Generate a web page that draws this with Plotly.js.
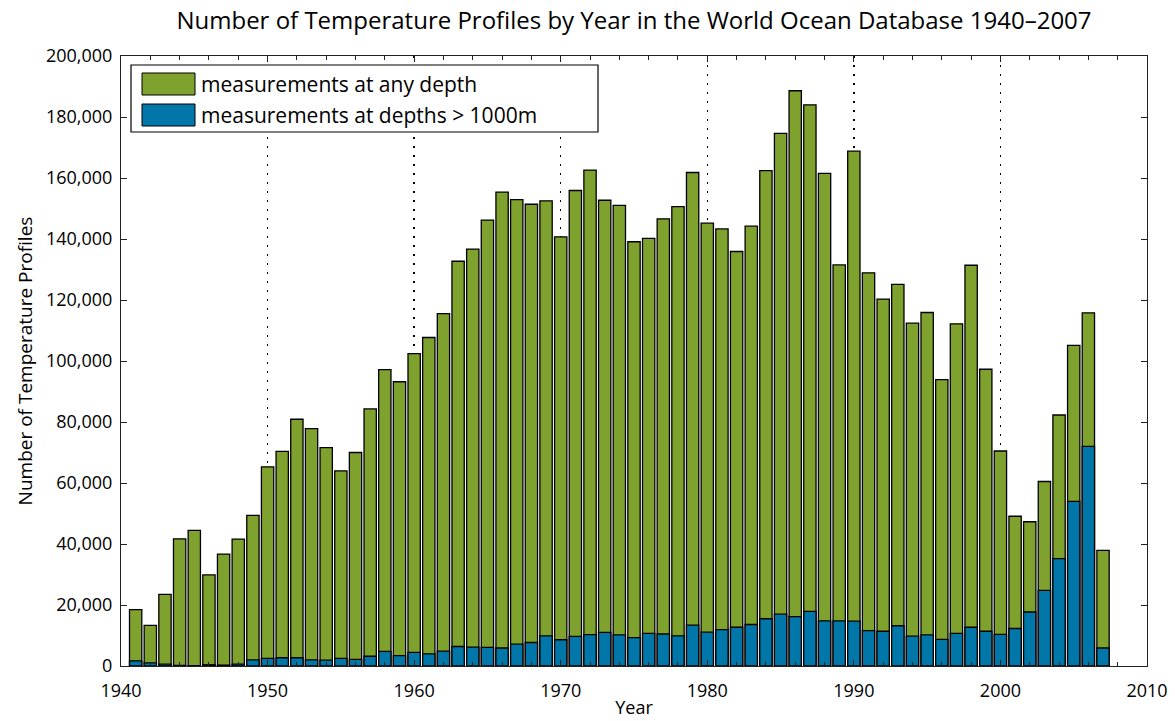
<!DOCTYPE html>
<html>
<head>
<meta charset="utf-8">
<script src="https://cdn.plot.ly/plotly-3.0.1.min.js"></script>
<style>html,body{margin:0;padding:0;background:#fff;}#chart{width:1175px;height:721px;}</style>
</head>
<body>
<div id="chart"></div>
<script>
const years = [1941,1942,1943,1944,1945,1946,1947,1948,1949,1950,1951,1952,1953,1954,1955,1956,1957,1958,1959,1960,
1961,1962,1963,1964,1965,1966,1967,1968,1969,1970,1971,1972,1973,1974,1975,1976,1977,1978,1979,1980,
1981,1982,1983,1984,1985,1986,1987,1988,1989,1990,1991,1992,1993,1994,1995,1996,1997,1998,1999,2000,
2001,2002,2003,2004,2005,2006,2007];
const anyDepth = [18500,13300,23500,41700,44500,29900,36700,41600,49400,65300,70400,80900,77800,71600,64000,70000,84300,97200,93200,102400,
107700,115500,132700,136700,146200,155400,152900,151400,152500,140700,155900,162600,152700,151000,139100,140200,146600,150600,161800,145200,
143300,135900,144200,162400,174600,188600,184000,161500,131500,168800,128900,120300,125100,112400,115900,93900,112200,131400,97300,70500,
49100,47300,60500,82300,105100,115800,37900];
const deep = [1700,1000,600,200,100,400,300,600,2000,2500,2700,2700,2000,1900,2500,2200,3200,4800,3400,4500,
4000,4900,6400,6200,6100,5900,7200,7700,9900,8600,9700,10300,11000,10200,9300,10700,10500,9900,13400,11100,
11900,12700,13600,15500,17000,16200,17900,14800,14800,14700,11600,11400,13200,9800,10200,8700,10700,12700,11400,10400,
12300,17700,24800,35200,54000,72000,5900];
const seriesNames = ["measurements at any depth","measurements at depths > 1000m"];
const seriesColors = ["#7fa12d","#0077a8"];
const xTicks = [1940,1950,1960,1970,1980,1990,2000,2010];
const yTicks = [0,20000,40000,60000,80000,100000,120000,140000,160000,180000,200000];

const FONT = "'Open Sans', 'Noto Sans', sans-serif";
const W = 1175, H = 721;
const M = {l:121, r:28, t:56, b:55};
const pw = W - M.l - M.r, ph = H - M.t - M.b;
const px = x => (x - M.l) / pw;
const py = y => 1 - (y - M.t) / ph;

const traces = [
  {type:'bar', x:years, y:anyDepth, name:seriesNames[0], width:0.84,
   marker:{color:seriesColors[0], line:{color:'#000', width:1.3}}, hoverinfo:'x+y'},
  {type:'bar', x:years, y:deep, name:seriesNames[1], width:0.84,
   marker:{color:seriesColors[1], line:{color:'#000', width:1.3}}, hoverinfo:'x+y'}
];

const shapes = [
  {type:'rect', xref:'paper', yref:'paper', x0:px(131), x1:px(598), y0:py(132), y1:py(65),
   line:{color:'#000', width:1.2}, fillcolor:'#fff', layer:'above'},
  {type:'rect', xref:'paper', yref:'paper', x0:px(142), x1:px(195), y0:py(95), y1:py(73),
   line:{color:'#000', width:1}, fillcolor:seriesColors[0], layer:'above'},
  {type:'rect', xref:'paper', yref:'paper', x0:px(142), x1:px(195), y0:py(126), y1:py(104),
   line:{color:'#000', width:1}, fillcolor:seriesColors[1], layer:'above'}
];
const annotations = [
  {xref:'paper', yref:'paper', x:px(199), y:py(84), xanchor:'left', yanchor:'middle', showarrow:false,
   text:seriesNames[0], font:{family:FONT, size:21, color:'#000'}},
  {xref:'paper', yref:'paper', x:px(199), y:py(115), xanchor:'left', yanchor:'middle', showarrow:false,
   text:seriesNames[1], font:{family:FONT, size:21, color:'#000'}}
];

const layout = {
  width:W, height:H,
  margin:M,
  paper_bgcolor:'#fff', plot_bgcolor:'#fff',
  font:{family:FONT, size:16, color:'#000'},
  title:{text:'Number of Temperature Profiles by Year in the World Ocean Database 1940\u20132007',
         font:{family:FONT, size:24, color:'#000'}, x:0.5, xref:'paper', xanchor:'center', y:0.972, yanchor:'middle'},
  barmode:'overlay',
  showlegend:false,
  xaxis:{range:[1940,2010], tickvals:xTicks, ticktext:xTicks.map(String),
         ticks:'inside', ticklen:6, tickcolor:'#222', tickwidth:1,
         minor:{dtick:2, tick0:1940, ticks:'inside', ticklen:4, tickcolor:'#222', showgrid:false},
         showline:true, linecolor:'#222', linewidth:1, mirror:'ticks',
         showgrid:true, gridcolor:'#000', griddash:'2px,7px', gridwidth:1.3,
         zeroline:false, tickfont:{size:18}, ticklabelstandoff:8,
         title:{text:'Year', font:{size:18}, standoff:0}},
  yaxis:{range:[0,200000], tickvals:yTicks, tickformat:',d',
         ticks:'inside', ticklen:6, tickcolor:'#222', tickwidth:1,
         showline:true, linecolor:'#222', linewidth:1, mirror:'ticks',
         showgrid:false, zeroline:false, tickfont:{size:18}, ticklabelstandoff:4,
         title:{text:'Number of Temperature Profiles', font:{size:19}, standoff:8}},
  shapes:shapes,
  annotations:annotations
};

Plotly.newPlot('chart', traces, layout, {displayModeBar:false, staticPlot:true});
</script>
</body>
</html>
